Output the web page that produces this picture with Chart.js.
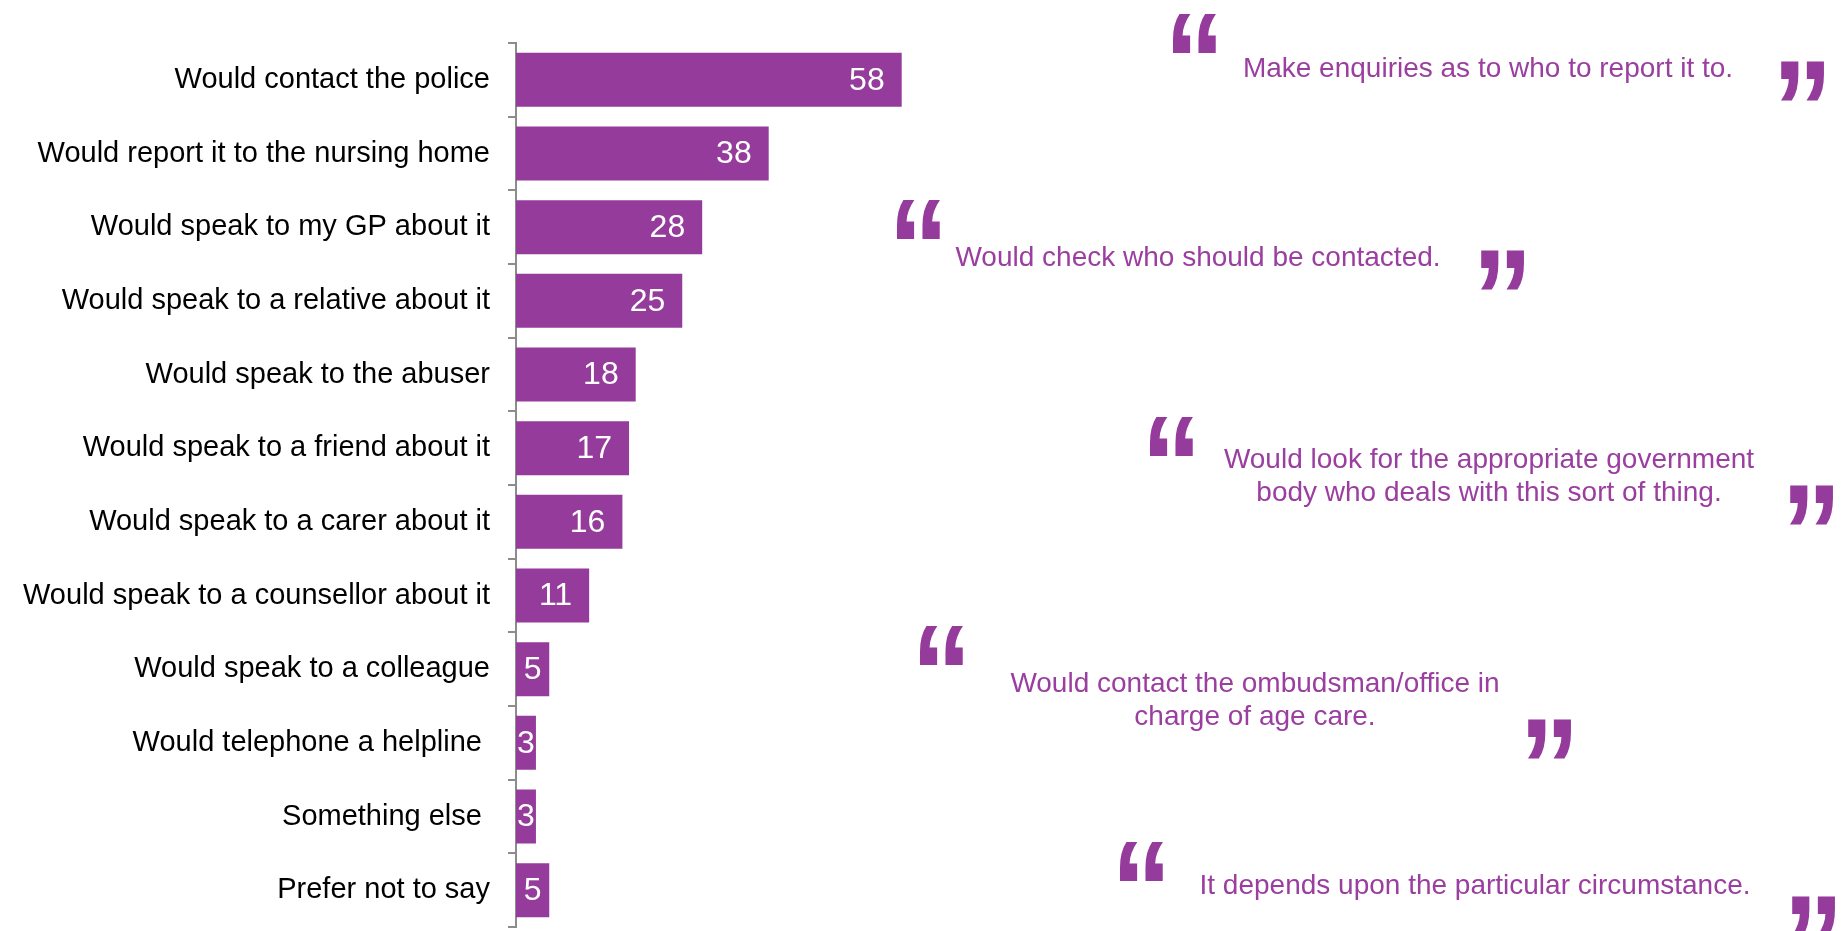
<!DOCTYPE html>
<html lang="en">
<head>
    <meta charset="UTF-8">
    <title>Responses to abuse</title>
    <script src="https://cdn.jsdelivr.net/npm/chart.js@4.4.0/dist/chart.umd.min.js"></script>
    <style>
        body { margin: 0; background: #fff; overflow: hidden; }
        #wrap { position: relative; width: 1843px; height: 931px; }
        #chart { position: absolute; left: 0; top: 0; }
        .quote {
            position: absolute; transform: translate(-50%, -50%);
            font: 28px "Liberation Sans", Arial, sans-serif; line-height: 33px;
            color: #9a3ea0; text-align: center; white-space: nowrap;
        }
        .mark {
            position: absolute; font: bold 122px "Liberation Sans Narrow", "Liberation Sans", sans-serif;
            line-height: 1; color: #953b9b;
            transform: scaleY(1.13); transform-origin: 0 0;
        }
    </style>
</head>
<body>
<div id="wrap">
    <canvas id="chart" width="1843" height="931"></canvas>

    <!-- quotes -->
    <div class="mark" style="left:1164px; top:-7px">&ldquo;</div>
    <div class="quote" style="left:1488px; top:67px">Make enquiries as to who to report it to.</div>
    <div class="mark" style="left:1772px; top:40px">&rdquo;</div>

    <div class="mark" style="left:888px; top:179px">&ldquo;</div>
    <div class="quote" style="left:1198px; top:256px">Would check who should be contacted.</div>
    <div class="mark" style="left:1472px; top:229px">&rdquo;</div>

    <div class="mark" style="left:1141px; top:396px">&ldquo;</div>
    <div class="quote" style="left:1489px; top:475px">Would look for the appropriate government<br>body who deals with this sort of thing.</div>
    <div class="mark" style="left:1781px; top:464px">&rdquo;</div>

    <div class="mark" style="left:911px; top:605px">&ldquo;</div>
    <div class="quote" style="left:1255px; top:699px">Would contact the ombudsman/office in<br>charge of age care.</div>
    <div class="mark" style="left:1519px; top:698px">&rdquo;</div>

    <div class="mark" style="left:1111px; top:821px">&ldquo;</div>
    <div class="quote" style="left:1475px; top:884px">It depends upon the particular circumstance.</div>
    <div class="mark" style="left:1783px; top:875px">&rdquo;</div>
</div>

<script>
    // data
    const categories = [
        'Would contact the police',
        'Would report it to the nursing home',
        'Would speak to my GP about it',
        'Would speak to a relative about it',
        'Would speak to the abuser',
        'Would speak to a friend about it',
        'Would speak to a carer about it',
        'Would speak to a counsellor about it',
        'Would speak to a colleague',
        'Would telephone a helpline ',
        'Something else ',
        'Prefer not to say'
    ];
    const values = [58, 38, 28, 25, 18, 17, 16, 11, 5, 3, 3, 5];

    const purple = '#953b9b';

    // white value labels at the inner end of each bar, clipped to the plot
    const valueLabels = {
        id: 'valueLabels',
        afterDatasetsDraw(chart) {
            const ctx = chart.ctx;
            const area = chart.chartArea;
            const meta = chart.getDatasetMeta(0);
            ctx.save();
            ctx.beginPath();
            ctx.rect(area.left, area.top, area.right - area.left, area.bottom - area.top);
            ctx.clip();
            ctx.font = '32px "Liberation Sans", Arial, sans-serif';
            ctx.fillStyle = '#fff';
            ctx.textBaseline = 'middle';
            meta.data.forEach((bar, i) => {
                const txt = String(values[i]);
                const w = ctx.measureText(txt).width;
                const barW = bar.x - bar.base;
                if (barW < w + 34) {
                    ctx.textAlign = 'center';
                    ctx.fillText(txt, (bar.x + bar.base) / 2, bar.y + 1);
                } else {
                    ctx.textAlign = 'right';
                    ctx.fillText(txt, bar.x - 17, bar.y + 1);
                }
            });
            ctx.restore();
        }
    };

    const ctx = document.getElementById('chart').getContext('2d');
    new Chart(ctx, {
        type: 'bar',
        data: {
            labels: categories,
            datasets: [{
                data: values,
                backgroundColor: purple,
                barPercentage: 0.733,
                categoryPercentage: 1
            }]
        },
        options: {
            indexAxis: 'y',
            responsive: false,
            animation: false,
            layout: { autoPadding: false, padding: { top: 43, bottom: 4, left: 0, right: 928 } },
            plugins: {
                legend: { display: false },
                tooltip: { enabled: false }
            },
            scales: {
                x: {
                    display: false,
                    min: 0,
                    max: 60
                },
                y: {
                    afterFit(scale) {
                        scale.width = 516;
                        // labels sit inside the bands, no extra room needed above/below
                        scale.paddingTop = 0;
                        scale.paddingBottom = 0;
                    },
                    grid: {
                        drawOnChartArea: false,
                        drawTicks: true,
                        tickLength: 8,
                        color: '#8c8c8c',
                        lineWidth: 2,
                        offset: true
                    },
                    border: { color: '#8c8c8c', width: 2 },
                    ticks: {
                        color: '#000',
                        padding: 18,
                        autoSkip: false,
                        font: { family: '"Liberation Sans", Arial, sans-serif', size: 29 }
                    }
                }
            }
        },
        plugins: [valueLabels]
    });
</script>
</body>
</html>
